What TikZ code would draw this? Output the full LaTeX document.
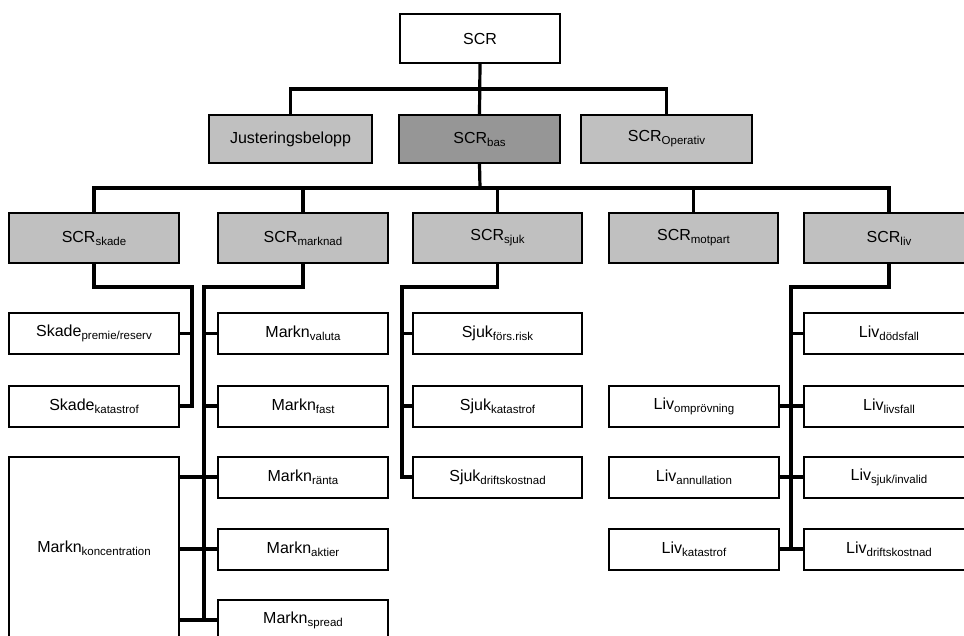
\documentclass[tikz,border=0pt]{standalone}
\usepackage{fontspec}
\setmainfont{Liberation Sans}
\definecolor{lightfill}{HTML}{C0C0C0}
\definecolor{darkfill}{HTML}{969696}
% lowered, smaller subscript text
\newcommand{\lowtxt}[1]{\raisebox{-3pt}{\fontsize{11.5}{11.5}\selectfont #1}}
\tikzset{
  box/.style={draw=black, line width=2pt, fill=white, inner sep=0pt,
    font=\fontsize{16}{16}\selectfont, minimum width=170pt, minimum height=41pt},
  grey/.style={box, fill=lightfill, minimum height=50pt},
  link/.style={draw=black, line width=3.2pt, line cap=rect},
}
\begin{document}
\begin{tikzpicture}[x=1pt, y=-1pt]
\useasboundingbox (0,0) rectangle (964,636);
\clip (0,0) rectangle (964,636);

% top level
\node[box, minimum width=160pt, minimum height=49pt] (scr) at (480,38.5) {SCR};
\node[grey, fill=lightfill, minimum width=163pt, minimum height=48pt] (just) at (290.5,139) {Justeringsbelopp};
\node[grey, fill=darkfill, minimum width=161pt, minimum height=48pt] (bas) at (479.5,139) {SCR\lowtxt{bas}};
\node[grey, fill=lightfill, minimum width=171pt, minimum height=48pt] (oper) at (666.5,139) {SCR\lowtxt{Operativ}};

% second level
\node[grey] (skade) at (94,238) {SCR\lowtxt{skade}};
\node[grey] (marknad) at (303,238) {SCR\lowtxt{marknad}};
\node[grey, minimum width=169pt] (sjuk) at (497.5,238) {SCR\lowtxt{sjuk}};
\node[grey, minimum width=169pt] (motpart) at (693.5,238) {SCR\lowtxt{motpart}};
\node[grey] (liv) at (889,238) {SCR\lowtxt{liv}};

% skade modules
\node[box] (skP) at (94,333.5) {Skade\lowtxt{premie/reserv}};
\node[box] (skK) at (94,406) {Skade\lowtxt{katastrof}};

% marknad modules
\node[box] (mVal) at (303,333.5) {Markn\lowtxt{valuta}};
\node[box] (mFast) at (303,406) {Markn\lowtxt{fast}};
\node[box] (mRan) at (303,477) {Markn\lowtxt{ränta}};
\node[box] (mAkt) at (303,549) {Markn\lowtxt{aktier}};
\node[box] (mSpr) at (303,620) {Markn\lowtxt{spread}};
\node[box, minimum height=182pt] (mKon) at (94,548) {Markn\lowtxt{koncentration}};

% sjuk modules
\node[box, minimum width=169pt] (sjF) at (497.5,333.5) {Sjuk\lowtxt{förs.risk}};
\node[box, minimum width=169pt] (sjK) at (497.5,406) {Sjuk\lowtxt{katastrof}};
\node[box, minimum width=169pt] (sjD) at (497.5,477) {Sjuk\lowtxt{driftskostnad}};

% liv modules
\node[box] (lDod) at (889,333.5) {Liv\lowtxt{dödsfall}};
\node[box] (lLivs) at (889,406) {Liv\lowtxt{livsfall}};
\node[box] (lSjuk) at (889,477) {Liv\lowtxt{sjuk/invalid}};
\node[box] (lDrift) at (889,549) {Liv\lowtxt{driftskostnad}};
\node[box] (lOmp) at (694,406) {Liv\lowtxt{omprövning}};
\node[box] (lAnn) at (694,477) {Liv\lowtxt{annullation}};
\node[box] (lKat) at (694,549) {Liv\lowtxt{katastrof}};

% bus and trunk points
\coordinate (b1) at (480,89);
\coordinate (b2) at (480,188);
\coordinate (tS) at (192,287);
\coordinate (tM) at (204,287);
\coordinate (tJ) at (402,287);
\coordinate (tL) at (791,287);

% top connectors
\draw[link] (scr.south) -- (bas.north);
\draw[link] (just.north) |- (b1) -| (oper.north);

% second level connectors
\draw[link] (bas.south) -- (b2);
\draw[link] (skade.north) |- (b2) -| (liv.north);
\draw[link] (marknad.north) -- (marknad.north |- b2);
\draw[link] (sjuk.north) -- (sjuk.north |- b2);
\draw[link] (motpart.north) -- (motpart.north |- b2);

% skade branch
\draw[link] (skade.south) |- (tS) |- (skK.east);
\draw[link] (skP.east) -- (skP.east -| tS);

% marknad branch
\draw[link] (marknad.south) |- (tM) |- (mSpr.west);
\draw[link] (mVal.west) -- (mVal.west -| tM);
\draw[link] (mFast.west) -- (mFast.west -| tM);
\draw[link] (mKon.east |- mRan.west) -- (mRan.west);
\draw[link] (mKon.east |- mAkt.west) -- (mAkt.west);
\draw[link] (mKon.east |- mSpr.west) -- (mSpr.west);

% sjuk branch
\draw[link] (sjuk.south) |- (tJ) |- (sjD.west);
\draw[link] (sjF.west) -- (sjF.west -| tJ);
\draw[link] (sjK.west) -- (sjK.west -| tJ);

% liv branch
\draw[link] (liv.south) |- (tL) -- (tL |- lDrift.west);
\draw[link] (lDod.west) -- (lDod.west -| tL);
\draw[link] (lOmp.east) -- (lLivs.west);
\draw[link] (lAnn.east) -- (lSjuk.west);
\draw[link] (lKat.east) -- (lDrift.west);
\end{tikzpicture}
\end{document}
